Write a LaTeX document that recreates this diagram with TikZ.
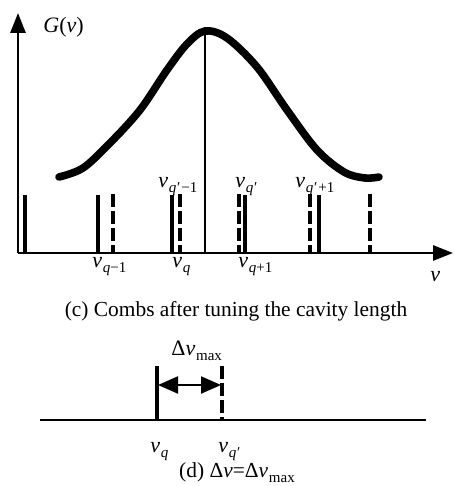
\documentclass[tikz,border=0pt]{standalone}
\usepackage{fontspec}
\setmainfont{Liberation Serif}
\usetikzlibrary{arrows.meta}
\newcommand{\vv}[1]{\textit{v}\kern0.4pt\raisebox{-0.55ex}{\fontsize{7.5}{8}\selectfont #1}}
\begin{document}
\begin{tikzpicture}[x=0.5pt,y=-0.5pt,
  axis/.style={line width=1.4pt,-{Triangle[length=10pt,width=7.5pt]}},
  solidcomb/.style={line width=1.8pt},
  dashcomb/.style={line width=1.6pt,dash pattern=on 6.5pt off 2pt},
  lbl/.style={inner sep=0pt,anchor=base west,font=\fontsize{11}{13}\selectfont},
  captxt/.style={inner sep=0pt,anchor=base,font=\fontsize{10.7}{13}\selectfont},
  darrow/.style={line width=1.1pt,{Triangle[length=10pt,width=8.5pt]}-{Triangle[length=10pt,width=8.5pt]}}]
\useasboundingbox (0,0) rectangle (454,486);
% axes
\coordinate (O) at (18,253);
\coordinate (Ytop) at (18,13);
\coordinate (Xend) at (453,253);
\draw[axis] (O) -- (Ytop);
\draw[axis] (O) -- (Xend);
% solid combs
\foreach \n/\x in {a/25,b/98,c/172,d/245,e/319}{
  \coordinate (sb\n) at (\x,253);
  \coordinate (st\n) at (\x,195);
  \draw[solidcomb] (sb\n) -- (st\n);
}
% dashed combs
\foreach \n/\x in {a/113,b/180,c/239,d/310,e/370}{
  \coordinate (db\n) at (\x,253);
  \coordinate (dt\n) at (\x,194);
  \draw[dashcomb] (dt\n) -- (db\n);
}
% centre line
\coordinate (cb) at (205,253);
\coordinate (ct) at (205,31);
\draw[line width=1.1pt] (cb) -- (ct);
% gain curve
\draw[line width=3.8pt,line cap=round] plot[smooth,tension=0.55] coordinates
  {(59,177) (83,168) (110,143) (140,110) (167,70) (187,44) (205,31) (227,38) (257,67) (287,110) (317,150) (344,172) (365,178) (379,177)};
% labels (c)
\node[lbl] (G) at (43,33) {\textit{G}(\textit{v})};
\node[lbl] (l1) at (158,187) {\vv{\textit{q}\kern0.3pt′\kern0.5pt−1}};
\node[lbl] (l2) at (235,187) {\vv{\textit{q}\kern0.3pt′}};
\node[lbl] (l3) at (295,187) {\vv{\textit{q}\kern0.3pt′\kern0.5pt+1}};
\node[lbl] (l4) at (92,267) {\vv{\textit{q}−1}};
\node[lbl] (l5) at (172,267) {\vv{\textit{q}}};
\node[lbl] (l6) at (238,267) {\vv{\textit{q}+1}};
\node[lbl] (lv) at (430,281) {\textit{v}};
\node[captxt] (capc) at (236,316) {(c) Combs after tuning the cavity length};
% part (d)
\coordinate (dl) at (40,420);
\coordinate (dr) at (426,420);
\draw[line width=1.4pt] (dl) -- (dr);
\coordinate (qb) at (157,420);
\coordinate (qt) at (157,366);
\draw[solidcomb] (qb) -- (qt);
\coordinate (pb) at (222,420);
\coordinate (pt) at (222,366);
\draw[dashcomb] (pt) -- (pb);
\coordinate (al) at (158,385);
\coordinate (ar) at (221,385);
\draw[darrow] (al) -- (ar);
\node[lbl] (dm) at (171,355) {Δ\vv{max}};
\node[lbl] (dq) at (150,452) {\vv{\textit{q}}};
\node[lbl] (dqp) at (218,452) {\vv{\textit{q}\kern0.3pt′}};
\node[captxt] (capd) at (237,477) {(d) Δ\textit{v}=Δ\vv{max}};
\end{tikzpicture}
\end{document}
